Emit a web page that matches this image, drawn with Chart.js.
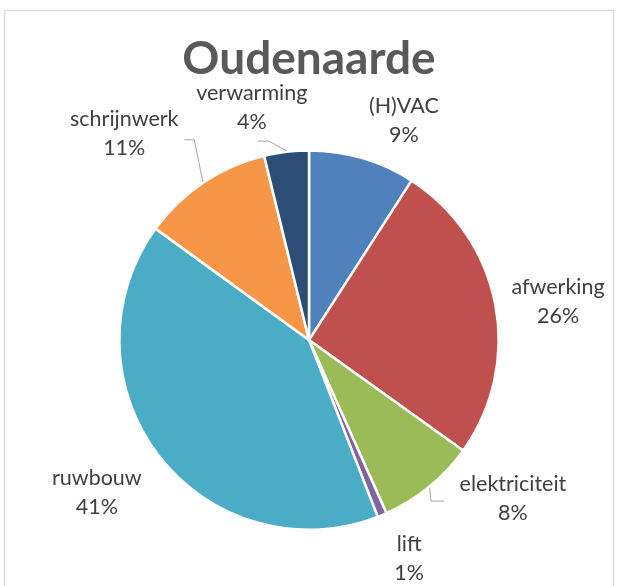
<!DOCTYPE html>
<html lang="nl">
<head>
<meta charset="UTF-8">
<title>Oudenaarde</title>
<script src="https://cdn.jsdelivr.net/npm/chart.js"></script>
<style>
  html, body { margin: 0; padding: 0; background: #fff; }
  #wrap { position: relative; width: 617px; height: 586px; }
</style>
</head>
<body>
<div id="wrap"><canvas id="myChart" width="617" height="586"></canvas></div>
<script>
// data
const categories = ['(H)VAC', 'afwerking', 'elektriciteit', 'lift', 'ruwbouw', 'schrijnwerk', 'verwarming'];
const shares = [9.1, 25.8, 8.4, 0.8, 40.9, 11.2, 3.8];
const colors = ['#4F81BD', '#C0504D', '#9BBB59', '#8064A2', '#4BACC6', '#F79646', '#2C4D75'];

// label placement: [distance from center, angle shift in degrees]
const labelPolar = [[239, 7], [252, 2], [258, -13], [240, -2], [261, 2], [277, -8], [239, -7]];
// leader lines: [elbow dx, elbow dy, end dx, end dy] relative to label center
const leaders = [null, null, [-82, 3, -69, 3], null, null, [70, 6, 60, 6], [17, 33, 6, 33]];

const labelFont = '21.5px Lato';
const labelColor = '#404040';

const total = shares.reduce((a, b) => a + b, 0);

// kader + labels
const pieLabels = {
    id: 'pieLabels',
    beforeDraw(chart) {
        const c = chart.ctx;
        c.save();
        c.strokeStyle = '#d9d9d9';
        c.lineWidth = 1.5;
        c.strokeRect(4.5, 10.5, 609, 600);
        c.restore();
    },
    afterDraw(chart) {
        const c = chart.ctx;
        const arcs = chart.getDatasetMeta(0).data;
        c.save();
        c.font = labelFont;
        c.fillStyle = labelColor;
        c.textAlign = 'center';
        c.textBaseline = 'middle';
        arcs.forEach((arc, i) => {
            const mid = (arc.startAngle + arc.endAngle) / 2;
            const [dist, shift] = labelPolar[i];
            const a = mid + shift * Math.PI / 180;
            const lx = arc.x + dist * Math.cos(a);
            const ly = arc.y + dist * Math.sin(a);
            const pct = Math.round(shares[i] / total * 100) + '%';
            c.fillText(categories[i], lx, ly - 14.5);
            c.fillText(pct, lx, ly + 14.5);

            const ld = leaders[i];
            if (ld) {
                const r = arc.outerRadius + 1;
                c.beginPath();
                c.strokeStyle = '#a6a6a6';
                c.lineWidth = 1;
                c.moveTo(arc.x + r * Math.cos(mid), arc.y + r * Math.sin(mid));
                c.lineTo(lx + ld[0], ly + ld[1]);
                c.lineTo(lx + ld[2], ly + ld[3]);
                c.stroke();
            }
        });
        c.restore();
    }
};

const ctx = document.querySelector('#myChart');
new Chart(ctx, {
    type: 'pie',
    data: {
        labels: categories,
        datasets: [{
            data: shares,
            backgroundColor: colors,
            borderColor: '#ffffff',
            borderWidth: 2.5
        }]
    },
    options: {
        responsive: false,
        animation: false,
        layout: {
            padding: { left: 118, right: 117, top: 0, bottom: 55 }
        },
        plugins: {
            legend: { display: false },
            tooltip: { enabled: false },
            title: {
                display: true,
                text: 'Oudenaarde',
                color: '#595959',
                font: { family: 'Lato', size: 46, weight: 'bold', lineHeight: 1.2 },
                padding: { top: 32, bottom: 62 }
            }
        }
    },
    plugins: [pieLabels]
});
</script>
</body>
</html>
